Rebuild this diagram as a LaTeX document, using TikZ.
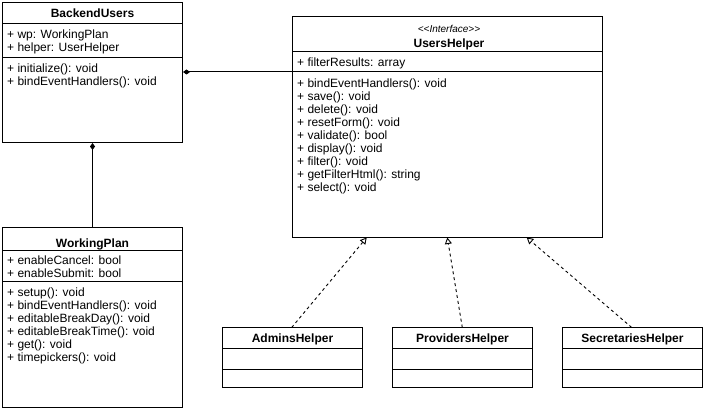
\documentclass[tikz,border=0pt]{standalone}
\usepackage{fontspec}
\setmainfont{Liberation Sans}
\usetikzlibrary{arrows.meta}
\tikzset{
  classbox/.style={draw=black, line width=1pt, fill=white, rectangle, inner sep=0pt},
  sepline/.style={draw=black, line width=1pt},
  row/.style={anchor=base west, inner sep=0pt, font=\fontsize{12}{13}\selectfont},
  ctitle/.style={anchor=base, inner sep=0pt, font=\fontsize{12}{13}\selectfont\bfseries},
  stereo/.style={anchor=base, inner sep=0pt, font=\fontsize{10}{11}\selectfont\itshape},
  comp/.style={draw=black, line width=1pt, -{Diamond[length=7pt,width=5pt]}},
  realize/.style={draw=black, line width=0.9pt, dash pattern=on 3pt off 3pt,
    -{Triangle[open, length=6.5pt, width=7pt, fill=white]}},
}
\newcommand\classrows[4]{%
  \foreach \t [count=\i] in {#4} {
    \node[row] (#1-\i) at (#2, #3+13*\i-13) {\t};
  }%
}
\begin{document}
\begin{tikzpicture}[x=1pt, y=-1pt]
\useasboundingbox (0,0) rectangle (704,409);

% BackendUsers
\node[classbox, minimum width=180pt, minimum height=140pt] (bu) at (92.5,72.5) {};
\draw[sepline] (2.5,23.3) -- (182.5,23.3);
\draw[sepline] (2.5,57.3) -- (182.5,57.3);
\node[ctitle] (bu-title) at (92.5,17.6) {BackendUsers};
\classrows{bua}{7}{38.2}{+ wp: WorkingPlan, + helper: UserHelper}
\classrows{bum}{7}{72.6}{+ initialize(): void, + bindEventHandlers(): void}

% WorkingPlan
\node[classbox, minimum width=180pt, minimum height=180.5pt] (wp) at (92.5,317.25) {};
\draw[sepline] (2.5,250) -- (182.5,250);
\draw[sepline] (2.5,281.7) -- (182.5,281.7);
\node[ctitle] (wp-title) at (92.5,247.2) {WorkingPlan};
\classrows{wpa}{7}{264.2}{+ enableCancel: bool, + enableSubmit: bool}
\classrows{wpm}{7}{296}{+ setup(): void, + bindEventHandlers(): void, + editableBreakDay(): void, + editableBreakTime(): void, + get(): void, + timepickers(): void}

% UsersHelper
\node[classbox, minimum width=310.5pt, minimum height=220.5pt] (uh) at (447.25,127.25) {};
\draw[sepline] (292,51.7) -- (602.5,51.7);
\draw[sepline] (292,72) -- (602.5,72);
\node[stereo] (uh-stereo) at (449,32.5) {<\kern0pt<Interface>\kern0pt>};
\node[ctitle] (uh-title) at (449,47.5) {UsersHelper};
\classrows{uha}{297}{66.7}{+ filterResults: array}
\classrows{uhm}{297}{87.7}{+ bindEventHandlers(): void, + save(): void, + delete(): void, + resetForm(): void, + validate(): bool, + display(): void, + filter(): void, + getFilterHtml(): string, + select(): void}

% Lower helpers
\foreach \nm/\cx/\lbl in {ah/292.5/AdminsHelper, ph/462.5/ProvidersHelper, sh/632.5/SecretariesHelper} {
  \node[classbox, minimum width=140pt, minimum height=59.5pt] (\nm) at (\cx,357.25) {};
  \draw[sepline] (\cx-70,348) -- (\cx+70,348);
  \draw[sepline] (\cx-70,369.5) -- (\cx+70,369.5);
  \node[ctitle] (\nm-title) at (\cx,342.6) {\lbl};
}

% Composition connectors
\coordinate (uhc) at (292,72);
\draw[comp] (uhc) -- (uhc -| bu.east);
\draw[comp] (wp.north) -- (bu.south);

% Realization connectors
\coordinate (t1) at (366.7,237.5);
\coordinate (t2) at (447.3,237.5);
\coordinate (t3) at (526.7,237.5);
\coordinate (s1) at (291.7,327.5);
\coordinate (s2) at (462.3,327.5);
\coordinate (s3) at (631.7,327.5);
\draw[realize] (s1) -- (t1);
\draw[realize] (s2) -- (t2);
\draw[realize] (s3) -- (t3);
\end{tikzpicture}
\end{document}
